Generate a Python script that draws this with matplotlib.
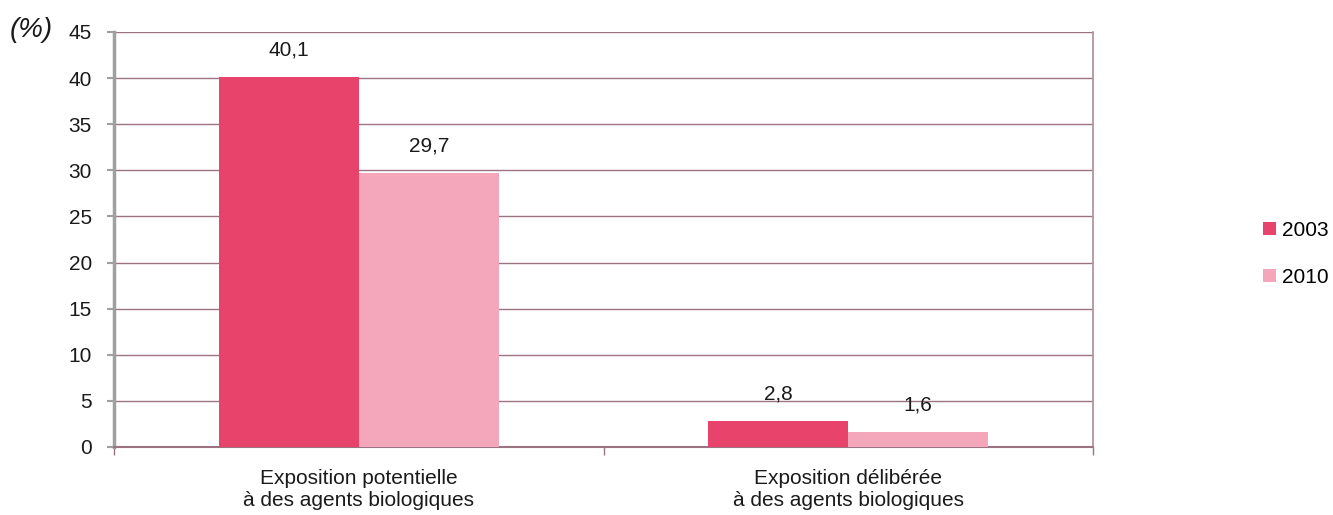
import matplotlib
matplotlib.use("Agg")
import matplotlib.pyplot as plt
import numpy as np

categories = ["Exposition potentielle\nà des agents biologiques",
              "Exposition délibérée\nà des agents biologiques"]
series_names = ["2003", "2010"]
values_2003 = [40.1, 2.8]
values_2010 = [29.7, 1.6]
labels_2003 = ["40,1", "2,8"]
labels_2010 = ["29,7", "1,6"]
yticks = [0, 5, 10, 15, 20, 25, 30, 35, 40, 45]

plt.rcParams['font.family'] = ['Liberation Sans', 'DejaVu Sans']
FS = 15

fig = plt.figure(figsize=(13.33, 5.15), dpi=100)
ax = fig.add_axes([114/1333, 1 - 447/515, (1093-114)/1333, (447-32)/515])

c1 = "#E8436A"
c2 = "#F4A6BA"
grid_c = "#9C7383"
w = 0.286
x = np.arange(len(categories))

b1 = ax.bar(x - w/2, values_2003, width=w, color=c1, label=series_names[0], zorder=3)
b2 = ax.bar(x + w/2, values_2010, width=w, color=c2, label=series_names[1], zorder=3)

for bars, labs in ((b1, labels_2003), (b2, labels_2010)):
    for r, lab in zip(bars, labs):
        ax.annotate(lab, (r.get_x() + r.get_width()/2, r.get_height()),
                    xytext=(0, 13), textcoords="offset points",
                    ha="center", va="bottom", fontsize=FS, color="#1a1a1a")

ax.set_xlim(-0.5, 1.5)
ax.set_ylim(0, 45)
ax.set_yticks(yticks)
ax.set_yticklabels([str(t) for t in yticks], fontsize=FS, color="#1a1a1a")
ax.yaxis.grid(True, color=grid_c, linewidth=1.0, zorder=0)
ax.set_axisbelow(True)

ax.set_xticks([-0.5, 0.5, 1.5])
ax.set_xticklabels([])
ax.set_xticks(x, minor=True)
ax.set_xticklabels(categories, minor=True, fontsize=FS, color="#1a1a1a", linespacing=1.2)
ax.tick_params(axis="x", which="minor", length=0, pad=16)
ax.tick_params(axis="x", which="major", length=6, color=grid_c, width=1)
ax.tick_params(axis="y", length=5, color="#A0A0A0", width=1.5, pad=11)

ax.spines["top"].set_visible(False)
ax.spines["left"].set_color("#A0A0A0")
ax.spines["left"].set_linewidth(2.5)
ax.spines["bottom"].set_color(grid_c)
ax.spines["bottom"].set_linewidth(1.5)
ax.spines["right"].set_color("#B08A9A")
ax.spines["right"].set_linewidth(1.2)

fig.text(10/1333, 1 - 30/515, "(%)", fontsize=20, style="italic", ha="left", va="center", color="#1a1a1a")

leg = fig.legend(handles=[b1, b2], labels=series_names, loc="center left",
                 bbox_to_anchor=(1263/1333, 1 - 254/515), frameon=False, fontsize=FS,
                 borderaxespad=0, borderpad=0,
                 handlelength=0.6, handleheight=0.6, handletextpad=0.3, labelspacing=1.35)

fig.savefig("out.png", dpi=100)
